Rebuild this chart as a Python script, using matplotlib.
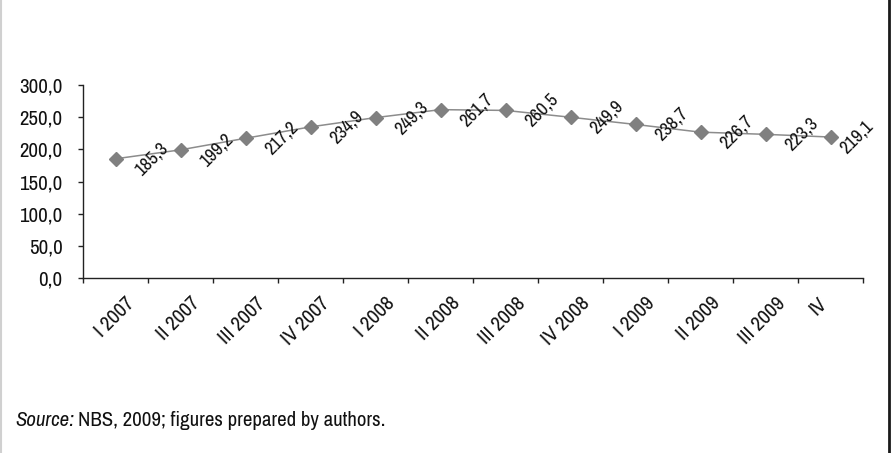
import matplotlib
matplotlib.use("Agg")
import matplotlib.pyplot as plt
from matplotlib import font_manager
from matplotlib.lines import Line2D

# quarterly values
quarters = ["I 2007", "II 2007", "III 2007", "IV 2007", "I 2008", "II 2008",
            "III 2008", "IV 2008", "I 2009", "II 2009", "III 2009", "IV"]
values = [185.3, 199.2, 217.2, 234.9, 249.3, 261.7,
          260.5, 249.9, 238.7, 226.7, 223.3, 219.1]


def find_font(words, avoid):
    for f in font_manager.fontManager.ttflist:
        n = f.fname.lower()
        if all(w in n for w in words) and not any(a in n for a in avoid):
            return f.fname
    return None


narrow = find_font(['narrow'], ['bold', 'italic'])
narrow_it = find_font(['narrow', 'italic'], ['bold'])
if narrow:
    fp = font_manager.FontProperties(fname=narrow)
    fp_it = font_manager.FontProperties(fname=narrow_it) if narrow_it else fp
    k = 1.0
else:
    fp = font_manager.FontProperties(family='Liberation Sans')
    fp_it = font_manager.FontProperties(family='Liberation Sans', style='italic')
    k = 0.85

fig = plt.figure(figsize=(8.91, 4.53), dpi=100)
ax = fig.add_axes([83/891, 1-278/453, 780/891, 193/453])

x = list(range(len(values)))
last = len(values) - 1
ax.plot(x, values, color='#8c8c8c', lw=1.1, marker='D', ms=6.8,
        mfc='#808080', mec='#808080', zorder=3)

# data labels, rotated, to the right of each point
for xi, v in zip(x, values):
    dx = 26 if xi < last else 19
    ax.annotate(f"{v:.1f}".replace('.', ','), xy=(xi, v), xytext=(dx, 0),
                textcoords='offset points', rotation=45, ha='center', va='center',
                rotation_mode='anchor', fontproperties=fp, fontsize=13.5*k, color='#111111')

ax.set_xlim(-0.5, len(values) - 0.5)
ax.set_ylim(0, 300)
ax.set_xticks([i - 0.5 for i in range(len(values) + 1)])
ax.set_xticklabels([])
ax.set_yticks(range(0, 301, 50))
ax.set_yticklabels([f"{t:.1f}".replace('.', ',') for t in range(0, 301, 50)],
                   fontproperties=fp, fontsize=15*k, color='#111111')
ax.tick_params(axis='both', direction='out', length=3.6, width=1, color='#222222')
ax.tick_params(axis='y', pad=11)

for s in ['top', 'right']:
    ax.spines[s].set_visible(False)
for s in ['left', 'bottom']:
    ax.spines[s].set_color('#222222')
    ax.spines[s].set_linewidth(1)

# category labels
for xi, q in zip(x, quarters):
    dx = 12 if xi < last else -5
    ax.annotate(q, xy=(xi, 0), xycoords=ax.get_xaxis_transform(), xytext=(dx, -16),
                textcoords='offset points', rotation=45, ha='right', va='center',
                rotation_mode='anchor', fontproperties=fp, fontsize=15*k, color='#111111')

# source note
t1 = fig.text(15/891, 1-420/453, "Source:", fontproperties=fp_it, fontsize=15*k,
              va='center', ha='left', color='#111111')
fig.canvas.draw()
bb = t1.get_window_extent()
fig.text((bb.x1 + 4)/891, 1-420/453, "NBS, 2009; figures prepared by authors.",
         fontproperties=fp, fontsize=15*k, va='center', ha='left', color='#111111')

# frame edges of the original figure box
fig.add_artist(Line2D([0.5/891, 0.5/891], [0, 1], color='#d0d0d0', lw=1.5,
                      transform=fig.transFigure))
fig.add_artist(Line2D([889/891, 889/891], [0, 1], color='#1a1a1a', lw=2,
                      transform=fig.transFigure))

fig.savefig("out.png", dpi=100)
